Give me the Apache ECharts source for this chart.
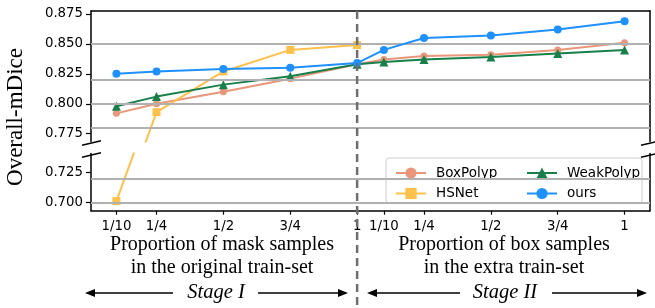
<!DOCTYPE html>
<html>
<head>
<meta charset="utf-8">
<script src="https://cdn.jsdelivr.net/npm/echarts@6/dist/echarts.min.js"></script>
<style>html,body{margin:0;padding:0;background:#fff;}#c{width:655px;height:308px;}</style>
</head>
<body>
<div id="c"></div>
<script>
// ---- data ----
const propLabels = ['1/10', '1/4', '1/2', '3/4', '1'];
const proportions = [0.1, 0.25, 0.5, 0.75, 1];
// Stage I at x = p, Stage II at x = 1 + p
const stage1X = proportions;
const stage2X = proportions.map(p => 1 + p);
const allX = stage1X.concat(stage2X);
const allLabels = propLabels.concat(propLabels);

const boxPolyp = [0.792, 0.800, 0.810, 0.821, 0.833, 0.837, 0.840, 0.841, 0.845, 0.851];
const hsNet = [0.701, 0.793, 0.827, 0.845, 0.849];
const weakPolyp = [0.798, 0.806, 0.816, 0.823, 0.833, 0.835, 0.837, 0.839, 0.842, 0.845];
const ours = [0.825, 0.827, 0.829, 0.830, 0.834, 0.845, 0.855, 0.857, 0.862, 0.869];

const topTicks = [0.775, 0.800, 0.825, 0.850, 0.875];
const bottomTicks = [0.700, 0.725];

// ---- layout ----
const X_MIN = 0.005, X_MAX = 2.095;
const TOP_MIN = 0.7685, TOP_MAX = 0.8775;
const BOT_MIN = 0.693, BOT_MAX = 0.7407;
const G_LEFT = 91, G_RIGHT = 650;
const T_TOP = 11, T_BOT = 141.5, B_TOP = 153.5, B_BOT = 210.7;

const C_BOX = '#e9967a', C_HS = '#ffc04c', C_WEAK = '#17804a', C_OURS = '#1e90ff';
const tickFont = {fontFamily: 'DejaVu Sans', fontSize: 13.3, color: '#000'};
const spine = {show: true, onZero: false, lineStyle: {color: '#000', width: 1.5}};

function pairs(xs, ys) { return ys.map((y, i) => [xs[i], y]); }

const chart = echarts.init(document.getElementById('c'), null, {renderer: 'canvas'});

function lineSeries(name, color, symbol, size, data, xi, yi, z) {
  return {
    name, type: 'line', xAxisIndex: xi, yAxisIndex: yi, data, clip: true,
    symbol, symbolSize: size, z,
    lineStyle: {color, width: 2}, itemStyle: {color},
    emphasis: {disabled: true}, silent: true
  };
}

const option = {
  animation: false,
  grid: [
    {left: G_LEFT, right: 655 - G_RIGHT, top: T_TOP, height: T_BOT - T_TOP},
    {left: G_LEFT, right: 655 - G_RIGHT, top: B_TOP, height: B_BOT - B_TOP}
  ],
  xAxis: [
    {gridIndex: 0, type: 'value', min: X_MIN, max: X_MAX, position: 'top',
     axisLine: spine, axisTick: {show: false}, axisLabel: {show: false}, splitLine: {show: false}},
    {gridIndex: 1, type: 'value', min: X_MIN, max: X_MAX, position: 'bottom',
     axisLine: spine,
     axisTick: {show: true, customValues: allX, length: 4, lineStyle: {color: '#000', width: 1.2}},
     axisLabel: Object.assign({customValues: allX, margin: 9,
       formatter: v => { let best = 0; allX.forEach((x, i) => { if (Math.abs(x - v) < Math.abs(allX[best] - v)) best = i; }); return allLabels[best]; }
     }, tickFont),
     splitLine: {show: false}}
  ],
  yAxis: [
    {gridIndex: 0, type: 'value', min: TOP_MIN, max: TOP_MAX, position: 'left',
     axisLine: spine,
     axisTick: {show: true, customValues: topTicks, length: 5, lineStyle: {color: '#000', width: 1.2}},
     axisLabel: Object.assign({customValues: topTicks, margin: 8, formatter: v => v.toFixed(3)}, tickFont),
     splitLine: {show: false}},
    {gridIndex: 0, type: 'value', min: TOP_MIN, max: TOP_MAX, position: 'right',
     axisLine: spine, axisTick: {show: false}, axisLabel: {show: false}, splitLine: {show: false}},
    {gridIndex: 1, type: 'value', min: BOT_MIN, max: BOT_MAX, position: 'left',
     axisLine: spine,
     axisTick: {show: true, customValues: bottomTicks, length: 5, lineStyle: {color: '#000', width: 1.2}},
     axisLabel: Object.assign({customValues: bottomTicks, margin: 8, formatter: v => v.toFixed(3)}, tickFont),
     splitLine: {show: false}},
    {gridIndex: 1, type: 'value', min: BOT_MIN, max: BOT_MAX, position: 'right',
     axisLine: spine, axisTick: {show: false}, axisLabel: {show: false}, splitLine: {show: false}}
  ],
  legend: [
    {data: ['BoxPolyp', 'HSNet'], orient: 'vertical', left: 390, top: 161,
     itemWidth: 30, itemHeight: 14, itemGap: 6.5, selectedMode: false,
     textStyle: {fontFamily: 'DejaVu Sans', fontSize: 13.5, color: '#000', padding: [0, 0, 0, 5]}},
    {data: ['WeakPolyp', 'ours'], orient: 'vertical', left: 521, top: 161,
     itemWidth: 30, itemHeight: 14, itemGap: 6.5, selectedMode: false,
     textStyle: {fontFamily: 'DejaVu Sans', fontSize: 13.5, color: '#000', padding: [0, 0, 0, 5]}}
  ],
  series: [
    // grid lines
    {type: 'line', xAxisIndex: 0, yAxisIndex: 0, data: [], z: 1, silent: true,
     markLine: {silent: true, symbol: 'none', label: {show: false}, animation: false,
       lineStyle: {color: '#b0b0b0', width: 1.8, type: 'solid'},
       data: topTicks.map(v => ({yAxis: v}))}},
    {type: 'line', xAxisIndex: 1, yAxisIndex: 2, data: [], z: 1, silent: true,
     markLine: {silent: true, symbol: 'none', label: {show: false}, animation: false,
       lineStyle: {color: '#b0b0b0', width: 1.8, type: 'solid'},
       data: bottomTicks.map(v => ({yAxis: v}))}},
    lineSeries('BoxPolyp', C_BOX, 'circle', 7, pairs(allX, boxPolyp), 0, 0, 2),
    lineSeries('HSNet', C_HS, 'rect', 8, pairs(stage1X, hsNet), 0, 0, 3),
    lineSeries('HSNet', C_HS, 'rect', 8, pairs(stage1X, hsNet), 1, 2, 3),
    lineSeries('WeakPolyp', C_WEAK, 'triangle', 9, pairs(allX, weakPolyp), 0, 0, 4),
    lineSeries('ours', C_OURS, 'circle', 8, pairs(allX, ours), 0, 0, 5)
  ]
};
chart.setOption(option);

// ---- annotations ----
const xDiv = chart.convertToPixel({xAxisIndex: 0}, 1);
const serif = 'Liberation Serif';
function arrow(x1, x2, y) { // tip at x2
  const dir = x2 > x1 ? 1 : -1, hl = 10, hw = 4;
  return [
    {type: 'line', shape: {x1, y1: y, x2: x2 - dir * hl, y2: y}, style: {stroke: '#000', lineWidth: 1.5}, z: 10},
    {type: 'polygon', shape: {points: [[x2, y], [x2 - dir * hl, y - hw], [x2 - dir * hl, y + hw]]}, style: {fill: '#000'}, z: 10}
  ];
}
function brk(x, y) {
  return {type: 'line', shape: {x1: x - 9, y1: y + 2.3, x2: x + 10, y2: y - 2.3}, style: {stroke: '#000', lineWidth: 1.5}, z: 10};
}
function txt(x, y, text, font, size, rot, style) {
  return {type: 'text', x, y, rotation: rot || 0, z: 10,
    style: {text, fill: '#000', font: (style || '') + ' ' + size + 'px "' + font + '"', align: 'center', verticalAlign: 'middle'}};
}
const g = [
  {type: 'line', shape: {x1: xDiv, y1: T_TOP, x2: xDiv, y2: 308}, style: {stroke: '#6e6e6e', lineWidth: 2.5, lineDash: [8, 5]}, z: 9},
  {type: 'rect', shape: {x: 386, y: 158, width: 256, height: 45, r: 3}, style: {fill: 'rgba(255,255,255,0.85)', stroke: '#cccccc', lineWidth: 1}, z: 3},
  brk(G_LEFT, T_BOT + 1.5), brk(G_RIGHT, T_BOT + 1.5), brk(G_LEFT, B_TOP + 1.5), brk(G_RIGHT, B_TOP + 1.5),
  txt(16, 117, 'Overall-mDice', serif, 23, Math.PI / 2),
  txt(222, 245, 'Proportion of mask samples', serif, 20),
  txt(222, 268, 'in the original train-set', serif, 20),
  txt(504, 245, 'Proportion of box samples', serif, 20),
  txt(504, 268, 'in the extra train-set', serif, 20),
  txt(216, 293, 'Stage I', serif, 20.5, 0, 'italic'),
  txt(505, 293, 'Stage II', serif, 20.5, 0, 'italic')
].concat(arrow(173, 85, 293), arrow(258, 348, 293), arrow(460, 367, 293), arrow(552, 647, 293));
chart.setOption({graphic: g});
</script>
</body>
</html>
